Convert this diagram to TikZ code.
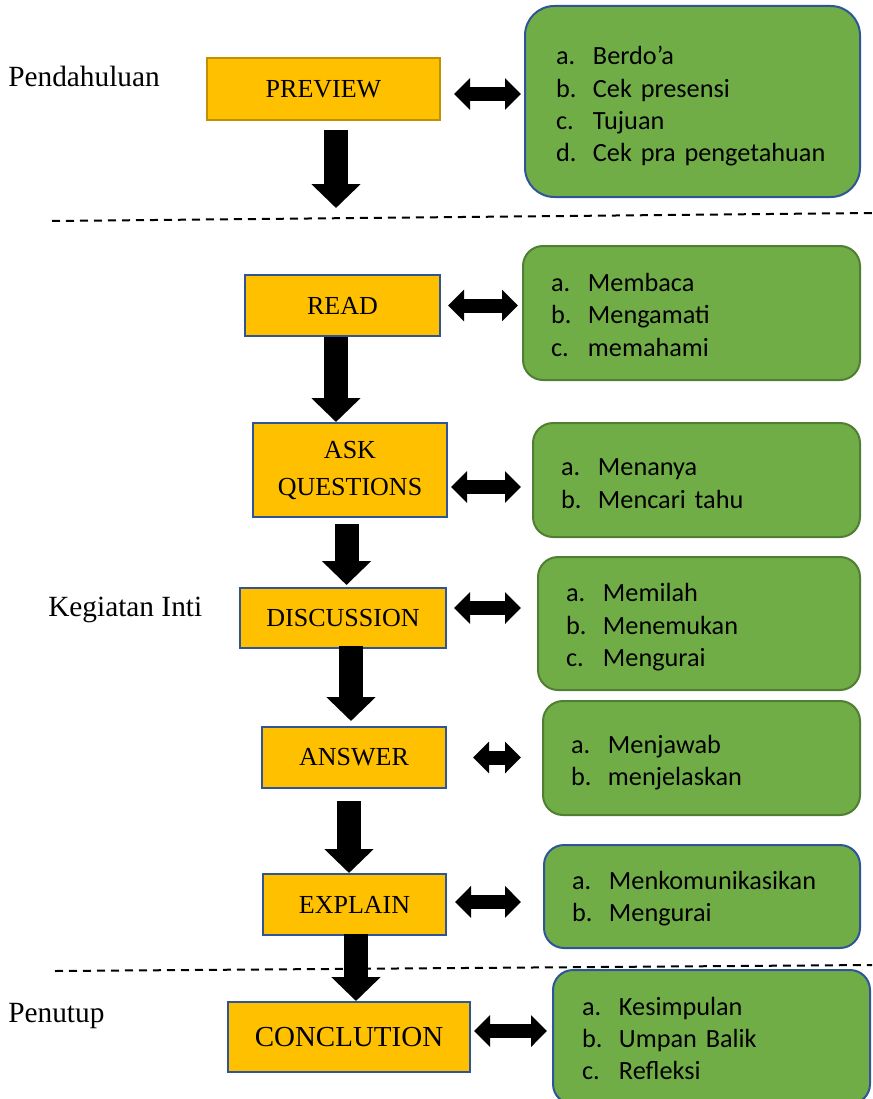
\documentclass[tikz,border=0pt]{standalone}
\usepackage{fontspec}
\setmainfont{Liberation Serif}
\newfontfamily\calib{Carlito}
\usetikzlibrary{arrows.meta}
\definecolor{boxorange}{RGB}{255,192,0}
\definecolor{boxgold}{RGB}{191,144,0}
\definecolor{boxblue}{RGB}{47,85,151}
\definecolor{boxgreen}{RGB}{112,173,71}
\definecolor{edgegreen}{RGB}{80,126,50}
\newcommand{\itm}[2]{\makebox[27.75pt][l]{#1}#2}
\newcommand{\lead}[1]{\rule{0pt}{\dimexpr 13.5pt+#1\relax}}

\begin{document}
\begin{tikzpicture}[x=0.75pt,y=0.75pt,yscale=-1,xscale=1,
  stage/.style={draw=boxblue,line width=1.5pt,fill=boxorange,inner sep=0pt,font=\fontsize{19.5}{27.75}\selectfont,align=center},
  info/.style={draw=boxblue,line width=1.5pt,fill=boxgreen,rounded corners=15pt,inner xsep=21pt,inner ysep=0pt,align=left,font=\calib\fontsize{19.7}{24.3}\selectfont},
  phase/.style={anchor=west,inner sep=0pt,font=\fontsize{22}{26}\selectfont},
  down/.style={line width=18pt,-{Triangle[width=36pt,length=18pt]}},
  twoway/.style={line width=10.5pt,{Triangle[width=23.25pt,length=12pt]}-{Triangle[width=23.25pt,length=12pt]}}]
\useasboundingbox (0,0) rectangle (872,1099);

%Dashed Lines
\draw [line width=1.5pt,dash pattern=on 6pt off 4.5pt] (52,221) -- (872,213) ;
\draw [line width=1.5pt,dash pattern=on 6pt off 4.5pt] (55,971) -- (872,965) ;

% Text Node
\node [phase] (pendahuluan) at (8,76) {Pendahuluan};
% Text Node
\node [phase] (inti) at (48,610) {Kegiatan Inti};
% Text Node
\node [phase] (penutup) at (8,1016) {Penutup};

%Stage Boxes
\node [stage,draw=boxgold,minimum width=174.75pt,minimum height=46.5pt] (preview) at (323.5,89) {PREVIEW};
\node [stage,minimum width=146.25pt,minimum height=45.75pt] (read) at (342.5,305.5) {READ};
\node [stage,minimum width=145.5pt,minimum height=70.5pt] (ask) at (350,470) {ASK\\QUESTIONS};
\node [stage,minimum width=154.5pt,minimum height=45pt] (discussion) at (343,618) {DISCUSSION};
\node [stage,minimum width=138pt,minimum height=45.75pt] (answer) at (354,757.5) {ANSWER};
\node [stage,minimum width=137.25pt,minimum height=45.75pt] (explain) at (354.5,904.5) {EXPLAIN};
\node [stage,font=\fontsize{21.75}{24}\selectfont,minimum width=181.5pt,minimum height=52.5pt] (conclution) at (349,1037) {CONCLUTION};

%Activity Boxes
\node [info,rounded corners=22pt,inner xsep=23.25pt,text width=204.75pt,minimum height=143.25pt] (preview-info) at (692.5,101.5)
  {\lead{7.5pt}\itm{a.}{Berdo’a}\\\itm{b.}{Cek presensi}\\\itm{c.}{Tujuan}\\\itm{d.}{Cek pra pengetahuan}};
\node [info,draw=edgegreen,text width=210.75pt,minimum height=100.5pt] (read-info) at (691.5,313)
  {\lead{3pt}\itm{a.}{Membaca}\\\itm{b.}{Mengamati}\\\itm{c.}{memahami}};
\node [info,draw=edgegreen,text width=203.25pt,minimum height=85.5pt] (ask-info) at (696.5,480)
  {\lead{4.5pt}\itm{a.}{Menanya}\\\itm{b.}{Mencari tahu}};
\node [info,draw=edgegreen,text width=199.5pt,minimum height=99.75pt] (discussion-info) at (699,623.5)
  {\lead{6pt}\itm{a.}{Memilah}\\\itm{b.}{Menemukan}\\\itm{c.}{Mengurai}};
\node [info,draw=edgegreen,text width=195.75pt,minimum height=85.5pt] (answer-info) at (701.5,758)
  {\lead{7.5pt}\itm{a.}{Menjawab}\\\itm{b.}{menjelaskan}};
\node [info,text width=195pt,minimum height=77.25pt] (explain-info) at (702,896.5)
  {\lead{3pt}\itm{a.}{Menkomunikasikan}\\\itm{b.}{Mengurai}};
\node [info,inner xsep=21.75pt,text width=194.25pt,minimum height=100.5pt] (conclution-info) at (711.5,1037)
  {\lead{2.25pt}\itm{a.}{Kesimpulan}\\\itm{b.}{Umpan Balik}\\\itm{c.}{Refleksi}};

%Down Arrows
\coordinate (preview-end) at (336,208);
\draw [down] ([yshift=6.75pt]preview.south -| preview-end) -- (preview-end) ;
\draw [down] ([xshift=-4.9pt]read.south) -- ([xshift=-4.9pt]read.south |- ask.north) ;
\draw [down] ([xshift=-2.6pt,yshift=4.5pt]ask.south) -- ([xshift=-2.6pt,yshift=-1.5pt]ask.south |- discussion.north) ;
\draw [down] ([xshift=6pt,yshift=-2.25pt]discussion.south) -- ([xshift=6pt,yshift=-3.75pt]discussion.south |- answer.north) ;
\draw [down] ([xshift=-3.75pt,yshift=9pt]answer.south) -- ([xshift=-3.75pt]answer.south |- explain.north) ;
\draw [down] ([xshift=1.1pt,yshift=-1.5pt]explain.south) -- ([xshift=1.1pt]explain.south |- conclution.north) ;

%Double Arrows
\draw [twoway,shorten <=9.75pt,shorten >=2.25pt] ([yshift=3.75pt]preview.east) -- ([yshift=3.75pt]preview.east -| preview-info.west) ;
\draw [twoway,shorten <=5.25pt,shorten >=3pt] (read.east) -- (read.east -| read-info.west) ;
\draw [twoway,shorten <=2.25pt,shorten >=8.25pt] ([yshift=12.75pt]ask.east) -- ([yshift=12.75pt]ask.east -| ask-info.west) ;
\draw [twoway,shorten <=5.25pt,shorten >=12pt] ([yshift=-7.5pt]discussion.east) -- ([yshift=-7.5pt]discussion.east -| discussion-info.west) ;
\draw [twoway,shorten <=19.5pt,shorten >=15.75pt] (answer.east) -- (answer.east -| answer-info.west) ;
\draw [twoway,shorten <=6pt,shorten >=16.5pt] ([yshift=-1.9pt]explain.east) -- ([yshift=-1.9pt]explain.east -| explain-info.west) ;
\draw [twoway,shorten <=2.25pt,shorten >=3.75pt] ([yshift=-4.5pt]conclution.east) -- ([yshift=-4.5pt]conclution.east -| conclution-info.west) ;

\end{tikzpicture}
\end{document}
